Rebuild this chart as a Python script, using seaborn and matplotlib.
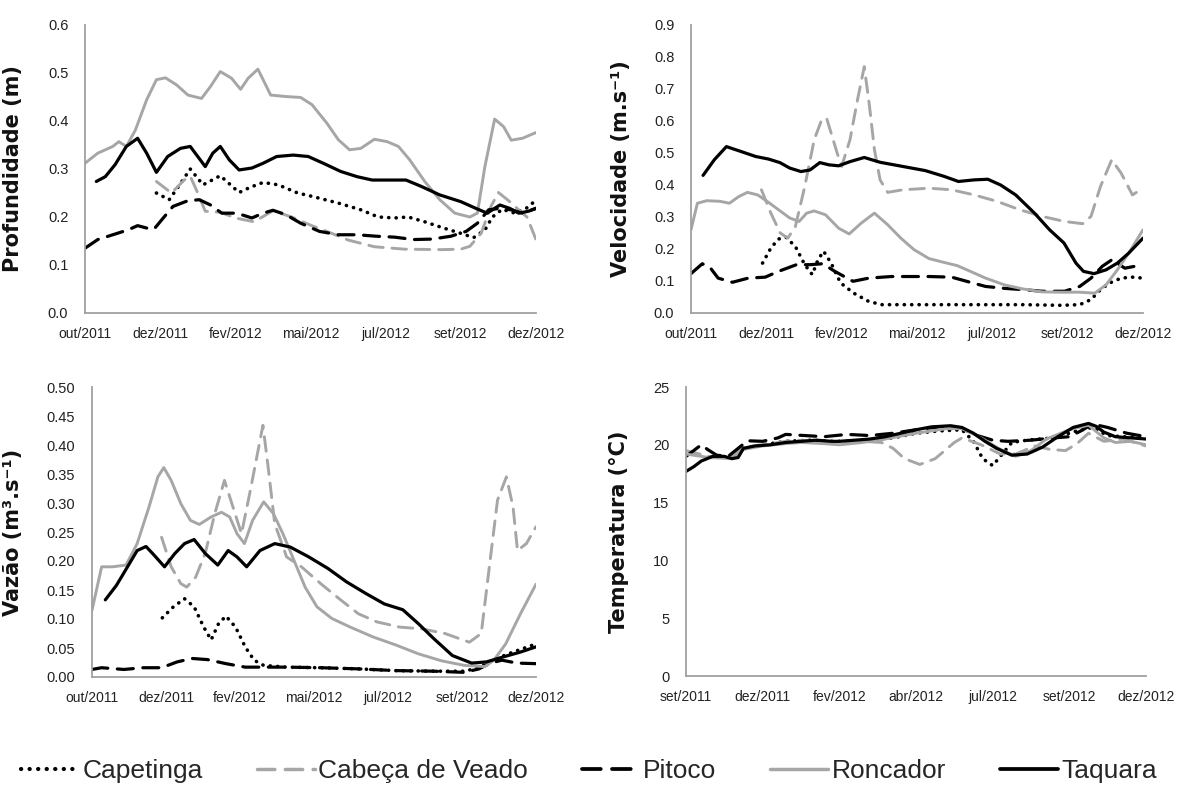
import matplotlib
matplotlib.use("Agg")
import matplotlib.pyplot as plt
from matplotlib.lines import Line2D
import numpy as np
import pandas as pd
import seaborn as sns

# ---------------------------------------------------------------- axis labels
months_a = ["out/2011", "dez/2011", "fev/2012", "mai/2012", "jul/2012", "set/2012", "dez/2012"]
months_t = ["set/2011", "dez/2011", "fev/2012", "abr/2012", "jul/2012", "set/2012", "dez/2012"]
sites = ["Capetinga", "Cabeça de Veado", "Pitoco", "Roncador", "Taquara"]

# ---------------------------------------------------------------- Profundidade (m)
prof_capetinga_pos = [0.95, 1.12, 1.25, 1.4, 1.57, 1.8, 2.05, 2.2, 2.37, 2.57, 2.83, 3.02, 3.37, 3.67, 3.9,
                      4.12, 4.3, 4.52, 4.77, 5.0, 5.17, 5.32, 5.42, 5.55, 5.72, 5.87, 5.97]
prof_capetinga_val = [0.25, 0.236, 0.265, 0.30, 0.267, 0.286, 0.251, 0.262, 0.272, 0.267, 0.25, 0.243, 0.229,
                      0.215, 0.20, 0.198, 0.20, 0.19, 0.177, 0.166, 0.157, 0.173, 0.20, 0.216, 0.208, 0.218, 0.231]
prof_cabeca_pos = [0.95, 1.15, 1.32, 1.4, 1.5, 1.6, 1.8, 2.0, 2.25, 2.5, 2.75, 3.0, 3.25, 3.5, 3.85, 4.25,
                   4.75, 5.0, 5.12, 5.27, 5.4, 5.5, 5.62, 5.77, 5.88, 6.0]
prof_cabeca_val = [0.274, 0.25, 0.277, 0.285, 0.25, 0.212, 0.21, 0.198, 0.19, 0.213, 0.20, 0.183, 0.168,
                   0.152, 0.138, 0.133, 0.132, 0.133, 0.139, 0.166, 0.222, 0.251, 0.236, 0.215, 0.20, 0.153]
prof_pitoco_pos = [0.0, 0.17, 0.37, 0.57, 0.7, 0.82, 0.92, 1.02, 1.17, 1.37, 1.52, 1.67, 1.82, 2.02, 2.22,
                   2.37, 2.5, 2.67, 2.87, 3.12, 3.37, 3.62, 3.87, 4.12, 4.37, 4.62, 4.87, 5.07, 5.22, 5.37,
                   5.52, 5.67, 5.82, 6.0]
prof_pitoco_val = [0.135, 0.153, 0.163, 0.173, 0.182, 0.177, 0.175, 0.194, 0.222, 0.234, 0.236, 0.225,
                   0.208, 0.208, 0.198, 0.208, 0.214, 0.205, 0.187, 0.17, 0.163, 0.163, 0.16, 0.158, 0.153,
                   0.154, 0.16, 0.17, 0.187, 0.215, 0.218, 0.215, 0.208, 0.218]
prof_roncador_pos = [0.0, 0.17, 0.37, 0.45, 0.55, 0.67, 0.82, 0.95, 1.07, 1.22, 1.37, 1.55, 1.67, 1.8, 1.95,
                     2.07, 2.17, 2.3, 2.37, 2.47, 2.67, 2.87, 3.02, 3.22, 3.37, 3.52, 3.67, 3.85, 4.02, 4.17,
                     4.32, 4.52, 4.72, 4.92, 5.12, 5.22, 5.32, 5.45, 5.57, 5.67, 5.82, 6.0]
prof_roncador_val = [0.312, 0.333, 0.347, 0.357, 0.347, 0.381, 0.444, 0.486, 0.49, 0.475, 0.454, 0.447,
                     0.472, 0.503, 0.489, 0.466, 0.489, 0.508, 0.486, 0.454, 0.451, 0.449, 0.434, 0.395,
                     0.361, 0.34, 0.343, 0.362, 0.357, 0.347, 0.319, 0.274, 0.236, 0.208, 0.20, 0.208,
                     0.305, 0.404, 0.388, 0.36, 0.364, 0.376]
prof_taquara_pos = [0.15, 0.27, 0.4, 0.55, 0.7, 0.82, 0.95, 1.1, 1.27, 1.4, 1.5, 1.6, 1.7, 1.8, 1.92, 2.05,
                    2.22, 2.37, 2.55, 2.77, 2.97, 3.17, 3.4, 3.62, 3.82, 4.07, 4.27, 4.47, 4.72, 5.0, 5.2,
                    5.35, 5.52, 5.65, 5.77, 5.9, 6.0]
prof_taquara_val = [0.274, 0.284, 0.309, 0.347, 0.364, 0.333, 0.293, 0.326, 0.343, 0.347, 0.326, 0.305,
                    0.333, 0.347, 0.319, 0.298, 0.302, 0.312, 0.326, 0.329, 0.326, 0.312, 0.295, 0.284,
                    0.277, 0.277, 0.277, 0.264, 0.246, 0.232, 0.218, 0.208, 0.225, 0.218, 0.208, 0.212, 0.218]

# ---------------------------------------------------------------- Velocidade (m/s)
vel_capetinga_pos = [0.95, 1.06, 1.16, 1.26, 1.385, 1.51, 1.61, 1.685, 1.76, 1.86, 1.985, 2.16, 2.36, 2.535,
                     2.91, 3.41, 3.91, 4.41, 4.91, 5.16, 5.31, 5.435, 5.56, 5.71, 5.86, 6.0]
vel_capetinga_val = [0.156, 0.203, 0.231, 0.237, 0.208, 0.151, 0.12, 0.166, 0.193, 0.156, 0.094, 0.062,
                     0.036, 0.026, 0.026, 0.026, 0.026, 0.026, 0.024, 0.026, 0.042, 0.073, 0.094, 0.109,
                     0.112, 0.109]
vel_cabeca_pos = [0.935, 1.06, 1.185, 1.285, 1.385, 1.51, 1.635, 1.735, 1.8, 1.94, 2.0, 2.11, 2.21, 2.3,
                  2.37, 2.435, 2.51, 2.61, 2.81, 3.16, 3.46, 3.76, 4.06, 4.36, 4.66, 4.96, 5.2, 5.31,
                  5.435, 5.585, 5.71, 5.86, 6.0]
vel_cabeca_val = [0.385, 0.312, 0.25, 0.234, 0.27, 0.395, 0.541, 0.604, 0.609, 0.50, 0.458, 0.541, 0.666,
                  0.77, 0.645, 0.51, 0.416, 0.377, 0.385, 0.39, 0.385, 0.369, 0.349, 0.323, 0.302, 0.286,
                  0.279, 0.302, 0.395, 0.479, 0.437, 0.369, 0.39]
vel_pitoco_pos = [0.0, 0.15, 0.26, 0.36, 0.55, 0.76, 0.985, 1.16, 1.4, 1.585, 1.75, 1.91, 2.15, 2.36, 2.66,
                  3.16, 3.46, 3.66, 3.91, 4.16, 4.41, 4.66, 4.96, 5.16, 5.31, 5.46, 5.585, 5.76, 6.0]
vel_pitoco_val = [0.123, 0.154, 0.14, 0.109, 0.096, 0.109, 0.112, 0.13, 0.151, 0.151, 0.154, 0.13, 0.099,
                  0.109, 0.114, 0.114, 0.112, 0.099, 0.083, 0.077, 0.073, 0.068, 0.068, 0.083, 0.109,
                  0.146, 0.166, 0.14, 0.151]
vel_roncador_pos = [0.0, 0.085, 0.21, 0.385, 0.51, 0.635, 0.75, 0.885, 1.01, 1.16, 1.31, 1.435, 1.535,
                    1.635, 1.785, 1.96, 2.1, 2.26, 2.435, 2.61, 2.785, 2.96, 3.16, 3.36, 3.535, 3.71, 3.91,
                    4.16, 4.41, 4.66, 4.91, 5.16, 5.36, 5.51, 5.66, 5.81, 6.0]
vel_roncador_val = [0.26, 0.343, 0.351, 0.349, 0.343, 0.364, 0.377, 0.369, 0.349, 0.323, 0.297, 0.286,
                    0.312, 0.319, 0.307, 0.265, 0.247, 0.281, 0.312, 0.276, 0.234, 0.198, 0.17, 0.158,
                    0.148, 0.13, 0.109, 0.088, 0.075, 0.066, 0.065, 0.065, 0.062, 0.088, 0.135, 0.187, 0.26]
vel_taquara_pos = [0.16, 0.31, 0.47, 0.66, 0.86, 1.03, 1.18, 1.31, 1.46, 1.58, 1.71, 1.83, 1.96, 2.11, 2.3,
                   2.51, 2.81, 3.11, 3.36, 3.55, 3.76, 3.94, 4.11, 4.31, 4.56, 4.76, 4.95, 5.11, 5.21,
                   5.35, 5.51, 5.66, 5.81, 6.0]
vel_taquara_val = [0.43, 0.479, 0.52, 0.505, 0.489, 0.481, 0.47, 0.453, 0.442, 0.447, 0.47, 0.463, 0.46,
                   0.473, 0.486, 0.471, 0.458, 0.445, 0.427, 0.411, 0.416, 0.418, 0.40, 0.369, 0.312,
                   0.26, 0.219, 0.156, 0.13, 0.123, 0.135, 0.156, 0.187, 0.234]

# ---------------------------------------------------------------- Vazão (m3/s)
vaz_capetinga_pos = [0.95, 1.1, 1.25, 1.38, 1.51, 1.61, 1.71, 1.81, 1.94, 2.07, 2.19, 2.32, 2.63, 3.09, 3.6,
                     4.11, 4.62, 5.03, 5.23, 5.43, 5.69, 6.0]
vaz_capetinga_val = [0.102, 0.121, 0.135, 0.121, 0.086, 0.064, 0.092, 0.105, 0.086, 0.052, 0.029, 0.02,
                     0.017, 0.016, 0.014, 0.011, 0.010, 0.010, 0.016, 0.030, 0.043, 0.057]
vaz_cabeca_pos = [0.94, 1.07, 1.2, 1.28, 1.4, 1.53, 1.66, 1.79, 1.89, 2.02, 2.14, 2.31, 2.38, 2.47, 2.63,
                  2.83, 3.09, 3.34, 3.6, 3.85, 4.16, 4.46, 4.77, 5.1, 5.26, 5.38, 5.48, 5.6, 5.69, 5.75,
                  5.87, 6.0]
vaz_cabeca_val = [0.241, 0.19, 0.161, 0.155, 0.172, 0.213, 0.282, 0.339, 0.299, 0.247, 0.322, 0.434, 0.362,
                  0.264, 0.207, 0.19, 0.161, 0.135, 0.109, 0.095, 0.086, 0.083, 0.075, 0.06, 0.075, 0.201,
                  0.305, 0.345, 0.293, 0.218, 0.23, 0.259]
vaz_pitoco_pos = [0.0, 0.13, 0.43, 0.69, 0.94, 1.15, 1.35, 1.56, 1.81, 2.07, 2.32, 2.63, 3.09, 3.6, 4.11,
                  4.62, 5.03, 5.23, 5.38, 5.54, 5.74, 6.0]
vaz_pitoco_val = [0.013, 0.016, 0.013, 0.016, 0.016, 0.026, 0.032, 0.030, 0.023, 0.017, 0.017, 0.017,
                  0.016, 0.014, 0.011, 0.010, 0.008, 0.014, 0.024, 0.029, 0.024, 0.023]
vaz_roncador_pos = [0.0, 0.13, 0.28, 0.46, 0.61, 0.77, 0.89, 0.97, 1.07, 1.2, 1.33, 1.45, 1.61, 1.75, 1.86,
                    1.96, 2.06, 2.17, 2.32, 2.45, 2.58, 2.73, 2.88, 3.04, 3.24, 3.49, 3.8, 4.11, 4.41,
                    4.72, 5.03, 5.31, 5.43, 5.59, 5.79, 6.0]
vaz_roncador_val = [0.115, 0.19, 0.19, 0.193, 0.23, 0.293, 0.345, 0.361, 0.339, 0.299, 0.27, 0.263, 0.276,
                    0.284, 0.276, 0.247, 0.23, 0.27, 0.302, 0.282, 0.247, 0.201, 0.155, 0.121, 0.101,
                    0.086, 0.069, 0.055, 0.04, 0.028, 0.02, 0.018, 0.029, 0.057, 0.109, 0.16]
vaz_taquara_pos = [0.18, 0.33, 0.48, 0.61, 0.73, 0.84, 0.98, 1.12, 1.25, 1.38, 1.53, 1.7, 1.84, 1.96, 2.09,
                   2.27, 2.47, 2.68, 2.93, 3.19, 3.44, 3.7, 3.95, 4.2, 4.41, 4.62, 4.87, 5.13, 5.33, 5.54,
                   5.79, 6.0]
vaz_taquara_val = [0.133, 0.158, 0.19, 0.218, 0.225, 0.21, 0.19, 0.213, 0.23, 0.237, 0.213, 0.193, 0.218,
                   0.207, 0.19, 0.218, 0.23, 0.224, 0.207, 0.187, 0.164, 0.144, 0.126, 0.116, 0.092,
                   0.066, 0.037, 0.024, 0.026, 0.034, 0.043, 0.052]

# ---------------------------------------------------------------- Temperatura (°C)
temp_capetinga_pos = [0.75, 1.0, 1.3, 1.6, 1.9, 2.2, 2.5, 2.7, 3.0, 3.3, 3.6, 3.75, 3.87, 4.0, 4.1, 4.25,
                      4.45, 4.8, 5.1, 5.3, 5.5, 5.7, 6.0]
temp_capetinga_val = [19.7, 20.0, 20.3, 20.4, 20.3, 20.3, 20.5, 20.6, 21.0, 21.2, 21.3, 20.3, 18.8, 18.2,
                      19.0, 20.2, 20.4, 20.6, 21.2, 21.5, 20.8, 20.7, 20.6]
temp_cabeca_pos = [0.0, 0.3, 0.6, 0.75, 1.0, 1.4, 1.8, 2.0, 2.3, 2.55, 2.7, 2.85, 3.05, 3.25, 3.5, 3.6,
                   3.85, 4.1, 4.3, 4.55, 4.75, 4.95, 5.1, 5.25, 5.45, 5.7, 6.0]
temp_cabeca_val = [19.5, 19.0, 19.0, 19.8, 20.0, 20.4, 20.3, 20.1, 20.3, 20.2, 19.7, 18.8, 18.3, 18.8,
                   20.2, 20.6, 20.0, 19.2, 19.2, 19.9, 19.6, 19.5, 20.1, 21.0, 20.3, 20.5, 19.9]
temp_pitoco_pos = [0.0, 0.1, 0.2, 0.28, 0.4, 0.55, 0.7, 0.8, 1.0, 1.2, 1.3, 1.55, 1.8, 2.1, 2.4, 2.7, 3.1,
                   3.4, 3.6, 3.8, 4.0, 4.2, 4.5, 4.8, 5.0, 5.15, 5.3, 5.5, 5.75, 6.0]
temp_pitoco_val = [19.0, 19.5, 20.0, 19.6, 19.1, 19.0, 19.8, 20.35, 20.3, 20.6, 20.9, 20.8, 20.7, 20.9,
                   20.8, 21.0, 21.4, 21.6, 21.4, 20.8, 20.4, 20.3, 20.4, 20.6, 20.7, 21.2, 21.8, 21.5,
                   21.0, 20.7]
temp_roncador_pos = [0.0, 0.3, 0.6, 0.75, 1.0, 1.3, 1.5, 1.8, 2.0, 2.3, 2.6, 3.0, 3.4, 3.6, 3.85, 4.1, 4.3,
                     4.5, 4.7, 5.0, 5.25, 5.45, 5.6, 5.8, 6.0]
temp_roncador_val = [19.2, 18.9, 18.8, 19.6, 19.9, 20.1, 20.2, 20.1, 20.0, 20.2, 20.5, 21.0, 21.4, 21.4,
                     20.6, 19.6, 19.0, 19.5, 20.5, 21.3, 21.7, 20.6, 20.2, 20.3, 20.0]
temp_taquara_pos = [0.0, 0.1, 0.2, 0.35, 0.5, 0.6, 0.68, 0.75, 0.9, 1.1, 1.3, 1.5, 1.7, 1.9, 2.0, 2.2, 2.4,
                    2.6, 2.8, 3.0, 3.2, 3.45, 3.6, 3.75, 3.9, 4.05, 4.25, 4.45, 4.65, 4.85, 5.05, 5.25,
                    5.35, 5.45, 5.6, 5.8, 6.0]
temp_taquara_val = [17.7, 18.1, 18.6, 19.0, 19.0, 18.8, 18.9, 19.7, 19.9, 20.0, 20.2, 20.3, 20.4, 20.3,
                    20.3, 20.4, 20.5, 20.7, 21.0, 21.3, 21.55, 21.65, 21.5, 21.0, 20.3, 19.7, 19.1, 19.2,
                    19.8, 20.7, 21.5, 21.85, 21.6, 21.1, 20.7, 20.6, 20.5]

# ---------------------------------------------------------------- styling
BLACK = "#000000"
GRAY = "#a6a6a6"
AXIS_GRAY = "#a0a0a0"
site_color = {"Capetinga": BLACK, "Cabeça de Veado": GRAY, "Pitoco": BLACK,
              "Roncador": GRAY, "Taquara": BLACK}
site_dash = {"Capetinga": (0.05, 2.0), "Cabeça de Veado": (5, 3), "Pitoco": (5, 3),
             "Roncador": "", "Taquara": ""}
site_lw = {"Capetinga": 2.6, "Cabeça de Veado": 2.1, "Pitoco": 2.3, "Roncador": 2.1, "Taquara": 2.3}

sns.set_theme(style="white")
plt.rcParams["font.family"] = ["Liberation Sans", "DejaVu Sans"]

W, H = 1178, 785
fig = plt.figure(figsize=(W / 100, H / 100), dpi=100)
fig.patch.set_facecolor("white")


def px_axes(left, right, top, bottom):
    return fig.add_axes([left / W, 1 - bottom / H, (right - left) / W, (bottom - top) / H])


def frame(series):
    rows = []
    for name, pos, val in series:
        rows.append(pd.DataFrame({"pos": pos, "val": val, "site": name}))
    return pd.concat(rows, ignore_index=True)


def draw_panel(ax, series, ymax, ystep, yfmt, months, ylabel, label_x):
    df = frame(series)
    for name in sites:
        sub = df[df["site"] == name]
        sns.lineplot(data=sub, x="pos", y="val", ax=ax, color=site_color[name],
                     linewidth=site_lw[name], estimator=None, sort=True, legend=False)
        line = ax.get_lines()[-1]
        if site_dash[name]:
            line.set_dashes(site_dash[name])
        line.set_dash_capstyle("round")
        line.set_solid_capstyle("round")
        line.set_solid_joinstyle("round")
    ax.set_xlim(0, 6)
    ax.set_ylim(0, ymax)
    ax.set_xticks(range(7))
    ax.set_xticklabels(months, va="baseline")
    ticks = np.round(np.arange(0, ymax + ystep / 2, ystep), 4)
    ax.set_yticks(ticks)
    ax.set_yticklabels([yfmt.format(t) for t in ticks])
    ax.set_xlabel("")
    ax.set_ylabel(ylabel, fontsize=15, fontweight="bold", family="DejaVu Sans", color="#111111")
    ax.yaxis.set_label_coords(label_x, 0.5)
    for side in ("top", "right"):
        ax.spines[side].set_visible(False)
    for side in ("left", "bottom"):
        ax.spines[side].set_color(AXIS_GRAY)
        ax.spines[side].set_linewidth(1.3)
    ax.tick_params(axis="x", direction="in", length=4, width=1, color=AXIS_GRAY,
                   labelsize=10, labelcolor="#222222", pad=18)
    ax.tick_params(axis="y", direction="out", length=3, width=1, color=AXIS_GRAY,
                   labelsize=10.5, labelcolor="#222222", pad=9)
    ax.set_facecolor("white")


ax1 = px_axes(85, 536, 25, 313)
draw_panel(ax1, [("Capetinga", prof_capetinga_pos, prof_capetinga_val),
                 ("Cabeça de Veado", prof_cabeca_pos, prof_cabeca_val),
                 ("Pitoco", prof_pitoco_pos, prof_pitoco_val),
                 ("Roncador", prof_roncador_pos, prof_roncador_val),
                 ("Taquara", prof_taquara_pos, prof_taquara_val)],
           0.6, 0.1, "{:.1f}", months_a, "Profundidade (m)", -62 / 451)

ax2 = px_axes(691, 1143, 25, 313)
draw_panel(ax2, [("Capetinga", vel_capetinga_pos, vel_capetinga_val),
                 ("Cabeça de Veado", vel_cabeca_pos, vel_cabeca_val),
                 ("Pitoco", vel_pitoco_pos, vel_pitoco_val),
                 ("Roncador", vel_roncador_pos, vel_roncador_val),
                 ("Taquara", vel_taquara_pos, vel_taquara_val)],
           0.9, 0.1, "{:.1f}", months_a, "Velocidade (m.s⁻¹)", -60 / 452)

ax3 = px_axes(92, 536, 387, 677)
draw_panel(ax3, [("Capetinga", vaz_capetinga_pos, vaz_capetinga_val),
                 ("Cabeça de Veado", vaz_cabeca_pos, vaz_cabeca_val),
                 ("Pitoco", vaz_pitoco_pos, vaz_pitoco_val),
                 ("Roncador", vaz_roncador_pos, vaz_roncador_val),
                 ("Taquara", vaz_taquara_pos, vaz_taquara_val)],
           0.5, 0.05, "{:.2f}", months_a, "Vazão (m³.s⁻¹)", -69 / 444)

ax4 = px_axes(686, 1146, 387, 676)
draw_panel(ax4, [("Capetinga", temp_capetinga_pos, temp_capetinga_val),
                 ("Cabeça de Veado", temp_cabeca_pos, temp_cabeca_val),
                 ("Pitoco", temp_pitoco_pos, temp_pitoco_val),
                 ("Roncador", temp_roncador_pos, temp_roncador_val),
                 ("Taquara", temp_taquara_pos, temp_taquara_val)],
           25, 5, "{:.0f}", months_t, "Temperatura (°C)", -57 / 460)

# shared legend along the bottom
handles = []
for name in sites:
    h = Line2D([0], [0], color=site_color[name], linewidth=site_lw[name] + 0.4)
    if site_dash[name]:
        h.set_dashes(site_dash[name])
    h.set_dash_capstyle("round")
    handles.append(h)
fig.legend(handles, sites, loc="center", bbox_to_anchor=(0.5, 1 - 771 / H), ncol=5,
           frameon=False, fontsize=19, handlelength=2.2, handletextpad=0.12,
           columnspacing=2.05, borderaxespad=0, borderpad=0)

fig.savefig("out.png", dpi=100, facecolor="white")
